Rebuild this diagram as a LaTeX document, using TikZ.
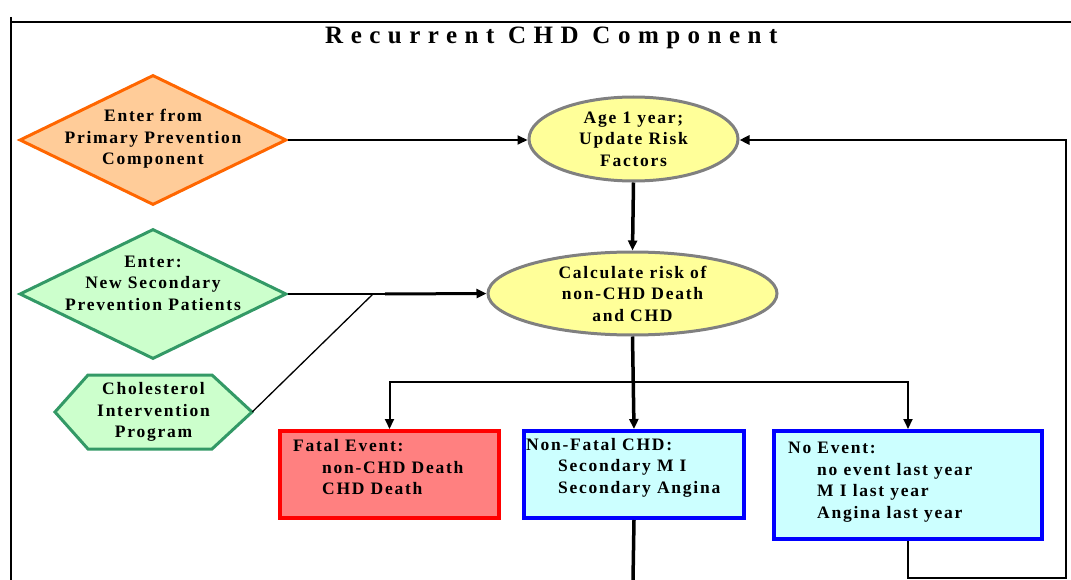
\documentclass[tikz,border=0pt]{standalone}
\usepackage{fontspec}
\setmainfont{Liberation Serif}[LetterSpace=10]
\newfontfamily\titlefont{Liberation Serif}[LetterSpace=30]
\usetikzlibrary{shapes.geometric,arrows.meta}
\definecolor{orfill}{HTML}{FFCC99}
\definecolor{ordraw}{HTML}{FF6600}
\definecolor{grfill}{HTML}{CCFFCC}
\definecolor{grdraw}{HTML}{339966}
\definecolor{yefill}{HTML}{FFFF99}
\definecolor{gydraw}{HTML}{808080}
\definecolor{rdfill}{HTML}{FF8080}
\definecolor{rddraw}{HTML}{FF0000}
\definecolor{cyfill}{HTML}{CCFFFF}
\definecolor{bldraw}{HTML}{0000FF}
\tikzset{
  txt/.style={font=\fontsize{17.5}{21.5}\selectfont\bfseries, align=center, inner sep=0pt},
  dia/.style={diamond, inner sep=0pt, minimum width=267pt, minimum height=130pt, line width=3pt},
  ell/.style={txt, ellipse, draw=gydraw, fill=yefill, line width=3pt},
  evbox/.style={rectangle, inner sep=0pt, line width=4pt, anchor=north west},
  evtxt/.style={txt, align=left, anchor=west},
  thin/.style={line width=2pt},
  thick/.style={line width=3.5pt},
  tip/.style={-{Triangle[length=10pt,width=9pt]}},
  frame/.style={line width=2pt}
}
\begin{document}
\begin{tikzpicture}[x=1pt,y=-1pt]
\useasboundingbox (0,0) rectangle (1071,580);
% frame
\draw[frame] (11,17) -- (11,580);
\draw[frame] (11,22) -- (1071,22);
% title
\node[inner sep=0pt, anchor=base west] (title) at (325,44) {\titlefont\fontsize{25}{28}\selectfont\bfseries Recurrent CHD Component};
% entry shapes
\node[dia, draw=ordraw, fill=orfill] (d1) at (153,140) {};
\node[txt] (d1t) at (153,139) {Enter from\\Primary Prevention\\Component};
\node[dia, draw=grdraw, fill=grfill] (d2) at (153,294) {};
\node[txt] (d2t) at (153,283) {Enter:\\New Secondary\\Prevention Patients};
\draw[line width=3pt, draw=grdraw, fill=grfill] (55,412) -- (88,375) -- (212,375) -- (252,412) -- (212,449) -- (88,449) -- cycle;
\node[txt, minimum width=197pt] (hex) at (153.5,412) {Cholesterol\\Intervention\\Program};
% ellipses
\node[ell, minimum width=209pt, minimum height=84pt] (e1) at (633.5,139) {Age 1 year;\\Update Risk\\Factors};
\node[ell, minimum width=289pt, minimum height=83pt] (e2) at (632.5,293.5) {Calculate risk of\\non-CHD Death\\and CHD};
% event boxes
\node[evbox, draw=rddraw, fill=rdfill, minimum width=219pt, minimum height=87pt] (b1) at (278,429) {};
\node[evtxt] (b1t) at (293,467.5) {Fatal Event:\\\hspace*{29pt}non-CHD Death\\\hspace*{29pt}CHD Death};
\node[evbox, draw=bldraw, fill=cyfill, minimum width=220pt, minimum height=87pt] (b2) at (522,429) {};
\node[evtxt] (b2t) at (526,467.5) {Non-Fatal CHD:\\\hspace*{32pt}Secondary M I\\\hspace*{32pt}Secondary Angina};
\node[evbox, draw=bldraw, fill=cyfill, minimum width=268pt, minimum height=108pt] (b3) at (772,429) {};
\node[evtxt] (b3t) at (788,482) {No Event:\\\hspace*{29pt}no event last year\\\hspace*{29pt}M I last year\\\hspace*{29pt}Angina last year};
% coordinates
\coordinate (join) at (373,294);
\coordinate (jthick) at (385,294);
\coordinate (split) at (633,382);
\coordinate (down2) at (633,580);
\coordinate (rb) at (1066,578);
\coordinate (lb) at (b3.south |- rb);
\coordinate (rt) at (1066,140);
% connectors
\draw[thin, tip] (d1.east) -- (e1.west |- d1.east);
\draw[thick, tip] (e1.south) -- (e2.north);
\draw[thin] (d2.east) -- (jthick);
\draw[line width=1.3pt] (hex.east) -- (join);
\draw[line width=3pt, tip] (jthick) -- (e2.west);
\draw[thick, tip] (e2.south) -- (b2.north);
\draw[thin, tip] (split) -| (b1.north);
\draw[thin, tip] (split) -| (b3.north);
\draw[thick] (b2.south) -- (down2);
\draw[line width=2.5pt, tip] (b3.south) -- (lb) -- (rb) -- (rt) -- (e1.east |- rt);
\end{tikzpicture}
\end{document}
